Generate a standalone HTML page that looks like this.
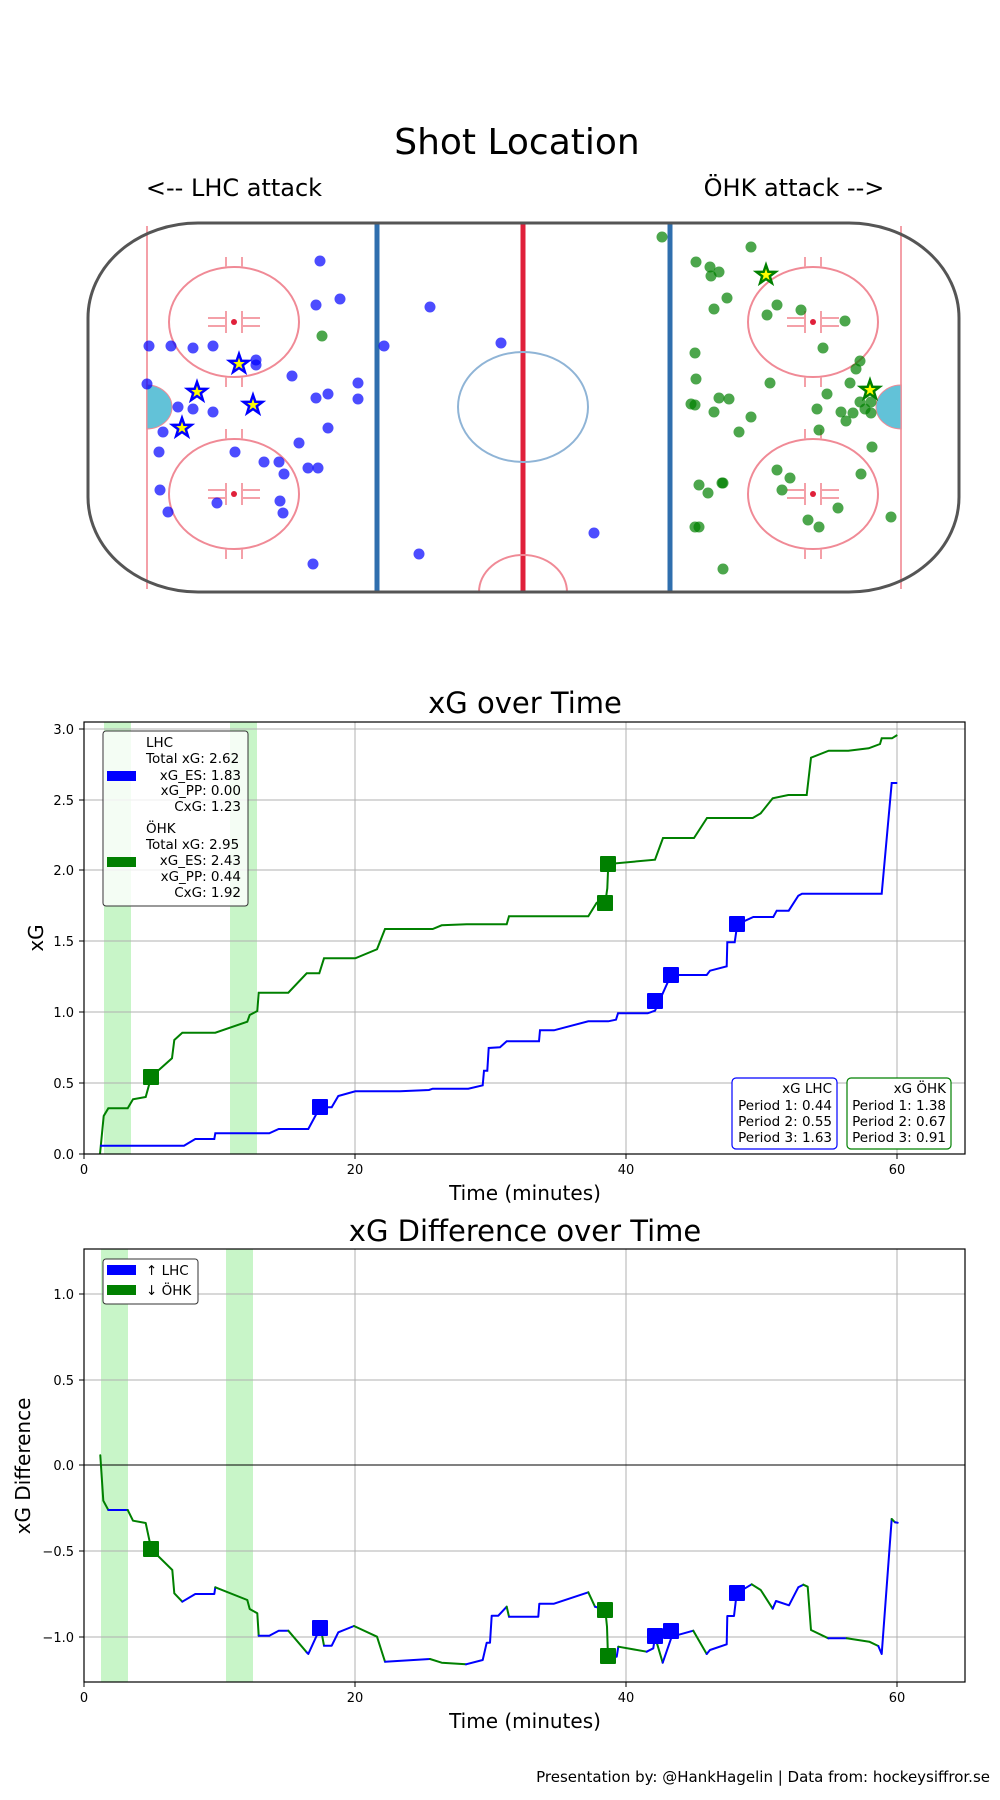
<!DOCTYPE html>
<html><head><meta charset="utf-8"><style>
html,body{margin:0;padding:0;background:#fff}
svg{display:block}
text{font-family:"DejaVu Sans","Liberation Sans",sans-serif;fill:#000}
</style></head><body>
<svg width="1000" height="1800" viewBox="0 0 1000 1800" xmlns="http://www.w3.org/2000/svg">
<!-- Shot Location -->
<text x="517" y="154" font-size="36" text-anchor="middle">Shot Location</text>
<text x="234" y="196" font-size="24" text-anchor="middle">&lt;-- LHC attack</text>
<text x="794" y="196" font-size="24" text-anchor="middle">ÖHK attack --&gt;</text>
<g fill="none">
<line x1="147" y1="226" x2="147" y2="589" stroke="#f4a0a8" stroke-width="2"/>
<line x1="901" y1="226" x2="901" y2="589" stroke="#f4a0a8" stroke-width="2"/>
<line x1="377" y1="224" x2="377" y2="591" stroke="#2f6fae" stroke-width="5"/>
<line x1="670" y1="224" x2="670" y2="591" stroke="#2f6fae" stroke-width="5"/>
<line x1="523" y1="224" x2="523" y2="591" stroke="#e0203a" stroke-width="5"/>
<ellipse cx="523" cy="407" rx="65" ry="55" stroke="#8fb4d6" stroke-width="2" fill="none"/>
<path d="M479 592 A44 37 0 0 1 567 592" stroke="#f08a96" stroke-width="2"/>
<g stroke="#f08a96" stroke-width="2">
<ellipse cx="234" cy="322" rx="65" ry="55"/><ellipse cx="234" cy="494" rx="65" ry="55"/>
<ellipse cx="813" cy="322" rx="65" ry="55"/><ellipse cx="813" cy="494" rx="65" ry="55"/>
</g>
<g stroke="#f4a0a8" stroke-width="2">
<path d="M208 318h18M242 318h18M208 326h18M242 326h18M226 311v22M242 311v22M208 490h18M242 490h18M208 498h18M242 498h18M226 483v22M242 483v22"/>
<path d="M787 318h18M821 318h18M787 326h18M821 326h18M805 311v22M821 311v22M787 490h18M821 490h18M787 498h18M821 498h18M805 483v22M821 483v22"/>
<path d="M226 267v-10M242 267v-10M226 377v10M242 377v10M226 439v-10M242 439v-10M226 549v10M242 549v10"/>
<path d="M805 267v-10M821 267v-10M805 377v10M821 377v10M805 439v-10M821 439v-10M805 549v10M821 549v10"/>
</g>
</g>
<g fill="#e0203a"><circle cx="234" cy="322" r="3"/><circle cx="234" cy="494" r="3"/><circle cx="813" cy="322" r="3"/><circle cx="813" cy="494" r="3"/></g>
<path d="M147 385 A25 22 0 0 1 147 429 Z" fill="#62c2d8" stroke="#f08a96" stroke-width="1"/>
<path d="M901 385 A25 22 0 0 0 901 429 Z" fill="#62c2d8" stroke="#f08a96" stroke-width="1"/>
<path d="M198 223 H849 A110 95 0 0 1 959 318 V497 A110 95 0 0 1 849 592 H198 A110 95 0 0 1 88 497 V318 A110 95 0 0 1 198 223 Z" fill="none" stroke="#555" stroke-width="3"/>
<g fill="#0000ff" fill-opacity="0.7">
<circle cx="149" cy="346" r="5.5"/><circle cx="171" cy="346" r="5.5"/><circle cx="193" cy="348" r="5.5"/><circle cx="213" cy="346" r="5.5"/><circle cx="256" cy="360" r="5.5"/><circle cx="256" cy="365" r="5.5"/><circle cx="147" cy="384" r="5.5"/><circle cx="178" cy="407" r="5.5"/><circle cx="193" cy="409" r="5.5"/><circle cx="213" cy="412" r="5.5"/><circle cx="163" cy="432" r="5.5"/><circle cx="159" cy="452" r="5.5"/><circle cx="235" cy="452" r="5.5"/><circle cx="264" cy="462" r="5.5"/><circle cx="279" cy="462" r="5.5"/><circle cx="284" cy="474" r="5.5"/><circle cx="308" cy="468" r="5.5"/><circle cx="318" cy="468" r="5.5"/><circle cx="160" cy="490" r="5.5"/><circle cx="168" cy="512" r="5.5"/><circle cx="217" cy="503" r="5.5"/><circle cx="280" cy="501" r="5.5"/><circle cx="283" cy="513" r="5.5"/><circle cx="313" cy="564" r="5.5"/><circle cx="320" cy="261" r="5.5"/><circle cx="316" cy="305" r="5.5"/><circle cx="340" cy="299" r="5.5"/><circle cx="292" cy="376" r="5.5"/><circle cx="316" cy="398" r="5.5"/><circle cx="328" cy="394" r="5.5"/><circle cx="358" cy="383" r="5.5"/><circle cx="358" cy="399" r="5.5"/><circle cx="328" cy="428" r="5.5"/><circle cx="299" cy="443" r="5.5"/><circle cx="384" cy="346" r="5.5"/><circle cx="430" cy="307" r="5.5"/><circle cx="419" cy="554" r="5.5"/><circle cx="501" cy="343" r="5.5"/><circle cx="594" cy="533" r="5.5"/>
</g>
<g fill="#008000" fill-opacity="0.7">
<circle cx="322" cy="336" r="5.5"/>
<circle cx="662" cy="237" r="5.5"/><circle cx="751" cy="247" r="5.5"/><circle cx="696" cy="262" r="5.5"/><circle cx="710" cy="267" r="5.5"/><circle cx="719" cy="272" r="5.5"/><circle cx="711" cy="276" r="5.5"/><circle cx="727" cy="298" r="5.5"/><circle cx="714" cy="309" r="5.5"/><circle cx="777" cy="305" r="5.5"/><circle cx="767" cy="315" r="5.5"/><circle cx="801" cy="310" r="5.5"/><circle cx="845" cy="321" r="5.5"/><circle cx="823" cy="348" r="5.5"/><circle cx="860" cy="361" r="5.5"/><circle cx="856" cy="369" r="5.5"/><circle cx="695" cy="353" r="5.5"/><circle cx="696" cy="379" r="5.5"/><circle cx="770" cy="383" r="5.5"/><circle cx="850" cy="383" r="5.5"/><circle cx="827" cy="394" r="5.5"/><circle cx="719" cy="398" r="5.5"/><circle cx="729" cy="399" r="5.5"/><circle cx="691" cy="404" r="5.5"/><circle cx="695" cy="405" r="5.5"/><circle cx="714" cy="412" r="5.5"/><circle cx="751" cy="417" r="5.5"/><circle cx="817" cy="409" r="5.5"/><circle cx="841" cy="412" r="5.5"/><circle cx="853" cy="413" r="5.5"/><circle cx="846" cy="421" r="5.5"/><circle cx="860" cy="402" r="5.5"/><circle cx="865" cy="409" r="5.5"/><circle cx="871" cy="413" r="5.5"/><circle cx="871" cy="402" r="5.5"/><circle cx="739" cy="432" r="5.5"/><circle cx="819" cy="430" r="5.5"/><circle cx="872" cy="447" r="5.5"/><circle cx="777" cy="470" r="5.5"/><circle cx="790" cy="478" r="5.5"/><circle cx="782" cy="490" r="5.5"/><circle cx="861" cy="474" r="5.5"/><circle cx="699" cy="485" r="5.5"/><circle cx="708" cy="493" r="5.5"/><circle cx="722" cy="483" r="5.5"/><circle cx="723" cy="483" r="5.5"/><circle cx="838" cy="508" r="5.5"/><circle cx="808" cy="520" r="5.5"/><circle cx="819" cy="527" r="5.5"/><circle cx="891" cy="517" r="5.5"/><circle cx="695" cy="527" r="5.5"/><circle cx="699" cy="527" r="5.5"/><circle cx="723" cy="569" r="5.5"/>
</g>
<defs><path id="st" d="M0,-10 L2.35,-3.2 9.5,-3.1 3.8,1.2 5.9,8.1 0,4 -5.9,8.1 -3.8,1.2 -9.5,-3.1 -2.35,-3.2Z"/></defs>
<g fill="#ffff00" stroke="#0000ff" stroke-width="2.5">
<use href="#st" x="239" y="364"/><use href="#st" x="197" y="392"/><use href="#st" x="253" y="405"/><use href="#st" x="182" y="428"/>
</g>
<g fill="#ffff00" stroke="#008000" stroke-width="2.5">
<use href="#st" x="766" y="275"/><use href="#st" x="870" y="390"/>
</g>

<!-- xG over Time -->
<text x="525" y="713" font-size="29" text-anchor="middle">xG over Time</text>
<rect x="104" y="722" width="27" height="432" fill="#c8f5c8"/>
<rect x="230" y="722" width="27" height="432" fill="#c8f5c8"/>
<g stroke="#b0b0b0" stroke-width="1">
<line x1="355" y1="722" x2="355" y2="1154"/><line x1="626" y1="722" x2="626" y2="1154"/><line x1="897" y1="722" x2="897" y2="1154"/>
<line x1="84" y1="1083" x2="965" y2="1083"/><line x1="84" y1="1012" x2="965" y2="1012"/><line x1="84" y1="941" x2="965" y2="941"/><line x1="84" y1="870" x2="965" y2="870"/><line x1="84" y1="800" x2="965" y2="800"/><line x1="84" y1="729" x2="965" y2="729"/>
</g>
<polyline fill="none" stroke="#008000" stroke-width="2" points="100,1154 103.7,1116 108.3,1108.3 127.7,1108.3 133,1099.3 145.7,1097 151.3,1076.7 172,1058.3 174.3,1040 182.3,1032.7 215.3,1032.7 247.3,1021.7 249.7,1015 257.3,1011 258.7,992.7 288.3,992.7 306.7,973.3 319.3,973.3 324,958.3 355.3,958.3 377,949.3 385,929 432.7,929 441.7,925.3 466.7,924.3 506.7,924.3 509,916.3 588.3,916.3 596.7,902.7 605.3,902.7 607.3,888.3 608.3,864 655,859.7 663,838 694,838 707,818 752.7,818 760.7,813.3 772.7,798.3 788.3,795 806.7,795 811,757.7 828.7,750.7 848.3,750.7 868.7,748.3 880,744 881.7,738.3 892,738.3 897.3,735"/>
<polyline fill="none" stroke="#0000ff" stroke-width="2" points="100,1145.7 184,1145.7 195.3,1139 214.3,1139 215.3,1133.3 269.3,1133.3 278.7,1129 308.3,1129 320,1107.3 331.7,1107.3 338.3,1096 355.3,1091.3 400,1091.3 429,1090 432.7,1088.7 468.3,1088.7 482.7,1085.3 484,1070.7 487.3,1070.7 488.7,1048 500,1047.3 506.7,1041.3 539,1041.3 540,1030.3 554,1030.3 588.3,1021.3 608.3,1021.3 616,1019.7 618,1013.3 647.7,1013.3 655,1010.7 671,975 706.7,975 710,970.7 726.7,966.3 727.3,942.3 734.7,942.3 737.3,924.3 753.3,917 773.3,917 776.7,910.7 788.7,910.7 798.3,895.7 802,893.7 881.7,893.7 891.7,783 897.3,783"/>
<g fill="#008000"><rect x="143" y="1069" width="16" height="16" rx="1"/><rect x="600" y="856" width="16" height="16" rx="1"/><rect x="597" y="895" width="16" height="16" rx="1"/></g>
<g fill="#0000ff"><rect x="312" y="1099" width="16" height="16" rx="1"/><rect x="647" y="993" width="16" height="16" rx="1"/><rect x="663" y="967" width="16" height="16" rx="1"/><rect x="729" y="916" width="16" height="16" rx="1"/></g>
<rect x="84" y="722" width="881" height="432" fill="none" stroke="#000" stroke-width="1.2"/>
<g stroke="#000"><line x1="84" y1="1154" x2="84" y2="1159"/><line x1="355" y1="1154" x2="355" y2="1159"/><line x1="626" y1="1154" x2="626" y2="1159"/><line x1="897" y1="1154" x2="897" y2="1159"/>
<line x1="79" y1="1154" x2="84" y2="1154"/><line x1="79" y1="1083" x2="84" y2="1083"/><line x1="79" y1="1012" x2="84" y2="1012"/><line x1="79" y1="941" x2="84" y2="941"/><line x1="79" y1="870" x2="84" y2="870"/><line x1="79" y1="800" x2="84" y2="800"/><line x1="79" y1="729" x2="84" y2="729"/></g>
<g font-size="13" text-anchor="middle"><text x="84" y="1174">0</text><text x="355" y="1174">20</text><text x="626" y="1174">40</text><text x="897" y="1174">60</text></g>
<g font-size="13" text-anchor="end"><text x="74" y="1159">0.0</text><text x="74" y="1088">0.5</text><text x="74" y="1017">1.0</text><text x="74" y="946">1.5</text><text x="74" y="875">2.0</text><text x="74" y="805">2.5</text><text x="74" y="734">3.0</text></g>
<text x="525" y="1200" font-size="20" text-anchor="middle">Time (minutes)</text>
<text transform="translate(43,938) rotate(-90)" font-size="20" text-anchor="middle">xG</text>
<rect x="103" y="731" width="145" height="175" rx="3" fill="#fff" fill-opacity="0.8" stroke="#333" stroke-width="1"/>
<rect x="107" y="771" width="29" height="10" fill="#0000ff"/>
<rect x="107" y="857" width="29" height="10" fill="#008000"/>
<g font-size="13.5"><text x="146" y="747">LHC</text><text x="146" y="763">Total xG: 2.62</text>
<text x="241" y="780" text-anchor="end">xG_ES: 1.83</text><text x="241" y="795" text-anchor="end">xG_PP: 0.00</text><text x="241" y="811" text-anchor="end">CxG: 1.23</text>
<text x="146" y="833">ÖHK</text><text x="146" y="849">Total xG: 2.95</text>
<text x="241" y="865" text-anchor="end">xG_ES: 2.43</text><text x="241" y="881" text-anchor="end">xG_PP: 0.44</text><text x="241" y="897" text-anchor="end">CxG: 1.92</text></g>
<rect x="732" y="1078" width="105" height="71" rx="4" fill="#fff" stroke="#0000ff" stroke-width="1.2"/>
<rect x="847" y="1078" width="104" height="71" rx="4" fill="#fff" stroke="#008000" stroke-width="1.2"/>
<g font-size="13.5" text-anchor="end"><text x="832" y="1093">xG LHC</text><text x="832" y="1110">Period 1: 0.44</text><text x="832" y="1126">Period 2: 0.55</text><text x="832" y="1142">Period 3: 1.63</text>
<text x="946" y="1093">xG ÖHK</text><text x="946" y="1110">Period 1: 1.38</text><text x="946" y="1126">Period 2: 0.67</text><text x="946" y="1142">Period 3: 0.91</text></g>

<!-- xG Difference -->
<text x="525" y="1241" font-size="29" text-anchor="middle">xG Difference over Time</text>
<rect x="101" y="1249" width="27" height="433" fill="#c8f5c8"/>
<rect x="226" y="1249" width="27" height="433" fill="#c8f5c8"/>
<g stroke="#b0b0b0" stroke-width="1">
<line x1="355" y1="1249" x2="355" y2="1682"/><line x1="626" y1="1249" x2="626" y2="1682"/><line x1="897" y1="1249" x2="897" y2="1682"/>
<line x1="84" y1="1294" x2="965" y2="1294"/><line x1="84" y1="1380" x2="965" y2="1380"/><line x1="84" y1="1551" x2="965" y2="1551"/><line x1="84" y1="1637" x2="965" y2="1637"/>
</g>
<line x1="84" y1="1465" x2="965" y2="1465" stroke="#000" stroke-width="1"/>
<g fill="none" stroke-width="2" stroke-linejoin="round" stroke-linecap="round">
<polyline stroke="#008000" points="100.3,1455.3 103.3,1500.7 108.3,1510"/>
<polyline stroke="#0000ff" points="108.3,1510 127.7,1510"/>
<polyline stroke="#008000" points="127.7,1510 133,1520.7 145.7,1523 151.3,1549.3 172.3,1570 174.3,1593.3 182.3,1601.7"/>
<polyline stroke="#0000ff" points="182.3,1601.7 195.3,1594 214.3,1594 215.3,1587.3"/>
<polyline stroke="#008000" points="215.3,1587.3 247.3,1600 249.7,1609 257.3,1613.3 258.7,1635.7"/>
<polyline stroke="#0000ff" points="258.7,1635.7 269.3,1635.7 278.7,1630.7 288.3,1630.7"/>
<polyline stroke="#008000" points="288.3,1630.7 306.7,1652.3"/>
<polyline stroke="#0000ff" points="306.7,1652.3 308.3,1654 320,1628.3"/>
<polyline stroke="#008000" points="320,1628.3 321.7,1633.3 324,1645.7"/>
<polyline stroke="#0000ff" points="324,1645.7 331.7,1645.7 338.3,1632.3 354,1626"/>
<polyline stroke="#008000" points="354,1626 377,1636.7 385,1661.7"/>
<polyline stroke="#0000ff" points="385,1661.7 430,1659"/>
<polyline stroke="#008000" points="430,1659 441.7,1662.7 466,1664.3"/>
<polyline stroke="#0000ff" points="466,1664.3 482.7,1660 486.7,1642.7 490,1642.7 491.7,1615.7 498.3,1615.7 506.7,1606.7"/>
<polyline stroke="#008000" points="506.7,1606.7 509,1616.7"/>
<polyline stroke="#0000ff" points="509,1616.7 538.3,1616.7 539.3,1603.7 554,1603.7 588.3,1592.3"/>
<polyline stroke="#008000" points="588.3,1592.3 595,1606.7"/>
<polyline stroke="#0000ff" points="595,1606.7 605.3,1610"/>
<polyline stroke="#008000" points="605.3,1610 607,1626.7 608,1656.7"/>
<polyline stroke="#0000ff" points="608,1656.7 616.7,1656.7 618.3,1646.7"/>
<polyline stroke="#008000" points="618.3,1646.7 646.7,1651.7"/>
<polyline stroke="#0000ff" points="646.7,1651.7 653.3,1648.3 655,1636.7"/>
<polyline stroke="#008000" points="655,1636.7 662.7,1662.7"/>
<polyline stroke="#0000ff" points="662.7,1662.7 671.7,1636.7 693.3,1630.7"/>
<polyline stroke="#008000" points="693.3,1630.7 706.7,1654"/>
<polyline stroke="#0000ff" points="706.7,1654 710,1650 726.7,1644.3 727.3,1616 734,1616 736.7,1593.3 751.7,1584.3"/>
<polyline stroke="#008000" points="751.7,1584.3 760.7,1590 772.7,1608.7"/>
<polyline stroke="#0000ff" points="772.7,1608.7 776,1601 789,1605.3 798.3,1587.3 803.3,1584.7"/>
<polyline stroke="#008000" points="803.3,1584.7 807.7,1586.7 811,1630 828.3,1638.3"/>
<polyline stroke="#0000ff" points="828.3,1638.3 846.7,1638.3"/>
<polyline stroke="#008000" points="846.7,1638.3 869.3,1641.7 878.3,1646"/>
<polyline stroke="#0000ff" points="878.3,1646 881.7,1654 891.7,1519"/>
<polyline stroke="#008000" points="891.7,1519 895,1522.3"/>
<polyline stroke="#0000ff" points="895,1522.3 897.7,1522.7"/>
</g>
<g fill="#008000"><rect x="143" y="1541" width="16" height="16" rx="1"/><rect x="597" y="1602" width="16" height="16" rx="1"/><rect x="600" y="1648" width="16" height="16" rx="1"/></g>
<g fill="#0000ff"><rect x="312" y="1620" width="16" height="16" rx="1"/><rect x="647" y="1628" width="16" height="16" rx="1"/><rect x="663" y="1623" width="16" height="16" rx="1"/><rect x="729" y="1585" width="16" height="16" rx="1"/></g>
<rect x="84" y="1249" width="881" height="433" fill="none" stroke="#000" stroke-width="1.2"/>
<g stroke="#000"><line x1="84" y1="1682" x2="84" y2="1687"/><line x1="355" y1="1682" x2="355" y2="1687"/><line x1="626" y1="1682" x2="626" y2="1687"/><line x1="897" y1="1682" x2="897" y2="1687"/>
<line x1="79" y1="1294" x2="84" y2="1294"/><line x1="79" y1="1380" x2="84" y2="1380"/><line x1="79" y1="1465" x2="84" y2="1465"/><line x1="79" y1="1551" x2="84" y2="1551"/><line x1="79" y1="1637" x2="84" y2="1637"/></g>
<g font-size="13" text-anchor="middle"><text x="84" y="1702">0</text><text x="355" y="1702">20</text><text x="626" y="1702">40</text><text x="897" y="1702">60</text></g>
<g font-size="13" text-anchor="end"><text x="74" y="1299">1.0</text><text x="74" y="1385">0.5</text><text x="74" y="1470">0.0</text><text x="74" y="1556">−0.5</text><text x="74" y="1642">−1.0</text></g>
<text x="525" y="1728" font-size="20" text-anchor="middle">Time (minutes)</text>
<text transform="translate(30,1466) rotate(-90)" font-size="20" text-anchor="middle">xG Difference</text>
<rect x="103" y="1259" width="95" height="45" rx="3" fill="#fff" stroke="#333" stroke-width="1"/>
<rect x="107" y="1265" width="29" height="10" fill="#0000ff"/>
<rect x="107" y="1285" width="29" height="10" fill="#008000"/>
<g font-size="13.5"><text x="146" y="1275">↑ LHC</text><text x="146" y="1295">↓ ÖHK</text></g>

<text x="990" y="1782" font-size="15" text-anchor="end">Presentation by: @HankHagelin | Data from: hockeysiffror.se</text>
</svg>
</body></html>
